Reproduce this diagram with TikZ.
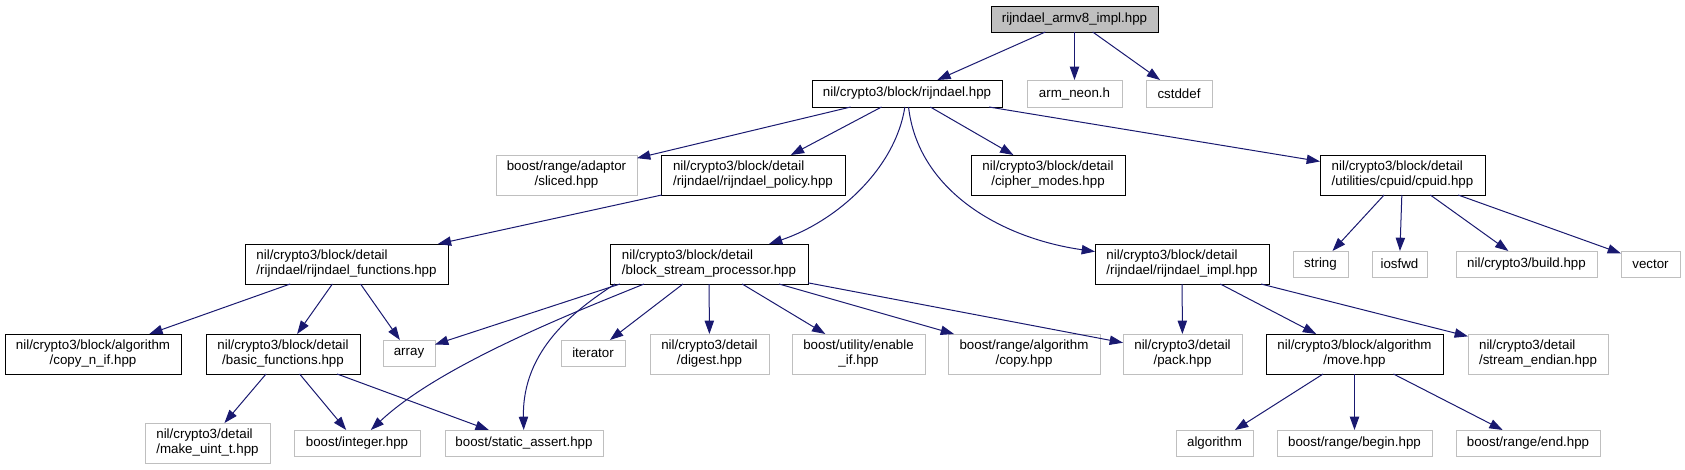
\documentclass[tikz,border=0pt]{standalone}
\usepackage{fontspec}
\setmainfont{Liberation Sans}
\usetikzlibrary{arrows.meta,calc}
\definecolor{edgecol}{HTML}{191970}
\definecolor{undoc}{HTML}{BFBFBF}
\definecolor{rootfill}{HTML}{BFBFBF}
\newcommand\twol[2]{\begin{tabular}{@{}c@{}}\multicolumn{1}{@{}l@{}}{#1}\\#2\end{tabular}}
\newcommand\bx[7]{%
  \pgfmathsetmacro\bxcx{(#3+#5)/2}%
  \pgfmathsetmacro\bxcy{(#4+#6)/2}%
  \pgfmathsetmacro\bxw{(#5-#3)*0.75}%
  \pgfmathsetmacro\bxh{(#6-#4)*0.75}%
  \node[#2, minimum width=\bxw pt, minimum height=\bxh pt] (#1) at (\bxcx,\bxcy) {#7};}
\tikzset{
  box/.style={draw, line width=0.7pt, inner sep=0pt, outer sep=0pt, fill=white, text=black},
  doc/.style={box, draw=black},
  und/.style={box, draw=undoc},
  rootbox/.style={box, draw=black, fill=rootfill},
  edge/.style={draw=edgecol, line width=0.75pt, -{Triangle[length=10pt,width=7pt]}}
}
\begin{document}
\begin{tikzpicture}[x=0.75pt, y=-0.75pt, font=\fontsize{10}{11.25}\selectfont]
\useasboundingbox (0,0) rectangle (1685,469);
% row 0
\bx{root}{rootbox}{991}{6}{1158}{32}{rijndael\_armv8\_impl.hpp}
% row 1
\bx{rijndael}{doc}{812}{80}{1002}{107}{nil/crypto3/block/rijndael.hpp}
\bx{armneon}{und}{1027}{80}{1122}{107}{arm\_neon.h}
\bx{cstddef}{und}{1146}{80}{1212}{107}{cstddef}
% row 2
\bx{sliced}{und}{496}{155}{637}{195}{\twol{boost/range/adaptor}{/sliced.hpp}}
\bx{policy}{doc}{661}{155}{845}{195}{\twol{nil/crypto3/block/detail}{/rijndael/rijndael\_policy.hpp}}
\bx{cipher}{doc}{971}{155}{1125}{195}{\twol{nil/crypto3/block/detail}{/cipher\_modes.hpp}}
\bx{cpuid}{doc}{1320}{155}{1485}{195}{\twol{nil/crypto3/block/detail}{/utilities/cpuid/cpuid.hpp}}
% row 3
\bx{functions}{doc}{245}{244}{448}{284}{\twol{nil/crypto3/block/detail}{/rijndael/rijndael\_functions.hpp}}
\bx{bsp}{doc}{610}{244}{808}{284}{\twol{nil/crypto3/block/detail}{/block\_stream\_processor.hpp}}
\bx{impl}{doc}{1095}{244}{1269}{284}{\twol{nil/crypto3/block/detail}{/rijndael/rijndael\_impl.hpp}}
\bx{string}{und}{1293}{251}{1348}{277}{string}
\bx{iosfwd}{und}{1372}{251}{1427}{277}{iosfwd}
\bx{build}{und}{1456}{251}{1597}{277}{nil/crypto3/build.hpp}
\bx{vector}{und}{1621}{251}{1680}{277}{vector}
% row 4
\bx{copyn}{doc}{5}{334}{181}{374}{\twol{nil/crypto3/block/algorithm}{/copy\_n\_if.hpp}}
\bx{basic}{doc}{206}{334}{360}{374}{\twol{nil/crypto3/block/detail}{/basic\_functions.hpp}}
\bx{array}{und}{383}{340}{435}{366}{array}
\bx{iterator}{und}{561}{340}{625}{366}{iterator}
\bx{digest}{und}{650}{334}{769}{374}{\twol{nil/crypto3/detail}{/digest.hpp}}
\bx{enableif}{und}{792}{334}{925}{374}{\twol{boost/utility/enable}{\_if.hpp}}
\bx{copy}{und}{948}{334}{1100}{374}{\twol{boost/range/algorithm}{/copy.hpp}}
\bx{pack}{und}{1123}{334}{1242}{374}{\twol{nil/crypto3/detail}{/pack.hpp}}
\bx{move}{doc}{1266}{334}{1443}{374}{\twol{nil/crypto3/block/algorithm}{/move.hpp}}
\bx{stream}{und}{1468}{334}{1608}{374}{\twol{nil/crypto3/detail}{/stream\_endian.hpp}}
% row 5
\bx{makeuint}{und}{145}{423}{270}{463}{\twol{nil/crypto3/detail}{/make\_uint\_t.hpp}}
\bx{integer}{und}{294}{430}{420}{456}{boost/integer.hpp}
\bx{sassert}{und}{445}{430}{603}{456}{boost/static\_assert.hpp}
\bx{algorithm}{und}{1176}{430}{1253}{456}{algorithm}
\bx{begin}{und}{1277}{430}{1432}{456}{boost/range/begin.hpp}
\bx{end}{und}{1456}{430}{1600}{456}{boost/range/end.hpp}
% edges
\draw[edge] (root) -- (rijndael);
\draw[edge] (root) -- (armneon);
\draw[edge] (root) -- (cstddef);
\draw[edge] (rijndael) -- (sliced);
\draw[edge] (rijndael) -- (policy);
\draw[edge] (rijndael) .. controls (895,170) and (835,222) .. (bsp);
\draw[edge] (rijndael) .. controls (918,190) and (1000,238) .. (impl);
\draw[edge] (rijndael) -- (cipher);
\draw[edge] (rijndael) -- (cpuid);
\draw[edge] (policy) -- (functions);
\draw[edge] (functions) -- (copyn);
\draw[edge] (functions) -- (basic);
\draw[edge] (functions) -- (array);
\draw[edge] (basic) -- (makeuint);
\draw[edge] (basic) -- (integer);
\draw[edge] (basic) -- (sassert);
\draw[edge] ($(bsp.south west)+(10,0)$) -- (array);
\draw[edge] ($(bsp.south west)+(34,0)$) .. controls (575,312) and (440,365) .. (integer);
\draw[edge] ($(bsp.south west)+(5,0)$) .. controls (575,310) and (522,350) .. (sassert);
\draw[edge] (bsp) -- (iterator);
\draw[edge] (bsp) -- (digest);
\draw[edge] (bsp) -- (enableif);
\draw[edge] (bsp) -- (copy);
\draw[edge] (bsp) -- (pack);
\draw[edge] (impl) -- (pack);
\draw[edge] (impl) -- (move);
\draw[edge] (impl) -- (stream);
\draw[edge] (cpuid) -- (string);
\draw[edge] (cpuid) -- (iosfwd);
\draw[edge] (cpuid) -- (build);
\draw[edge] (cpuid) -- (vector);
\draw[edge] (move) -- (algorithm);
\draw[edge] (move) -- (begin);
\draw[edge] (move) -- (end);
\end{tikzpicture}
\end{document}
